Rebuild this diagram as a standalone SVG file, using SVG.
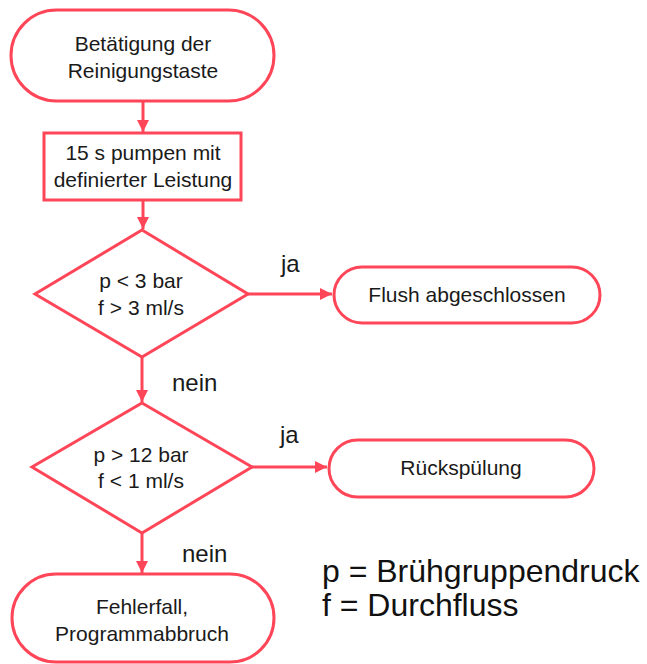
<svg xmlns="http://www.w3.org/2000/svg" width="647" height="664" viewBox="0 0 647 664">
  <defs>
    <style>
      .shape { fill: #ffffff; stroke: #ff4658; stroke-width: 3; }
      .edge { fill: none; stroke: #ff4658; stroke-width: 3; }
      .txt { font-family: "Liberation Sans", Arial, sans-serif; font-size: 21px; fill: #1a1a1a; text-anchor: middle; }
      .lbl { font-family: "Liberation Sans", Arial, sans-serif; font-size: 24px; fill: #1a1a1a; }
      .legend { font-family: "Liberation Sans", Arial, sans-serif; font-size: 32px; fill: #111111; }
    </style>
    <marker id="arrow" viewBox="0 0 10 10" refX="10" refY="5" markerWidth="4" markerHeight="4" orient="auto" markerUnits="strokeWidth">
      <path d="M0,0 L10,5 L0,10 z" fill="#ff4658"/>
    </marker>
  </defs>
  <rect width="647" height="664" fill="#ffffff"/>

  <g id="connectors">
    <line class="edge" x1="143" y1="102" x2="143" y2="132" marker-end="url(#arrow)"/>
    <line class="edge" x1="143" y1="201" x2="143" y2="229" marker-end="url(#arrow)"/>
    <line class="edge" x1="248" y1="294" x2="332" y2="294" marker-end="url(#arrow)"/>
    <line class="edge" x1="142" y1="357" x2="142" y2="402" marker-end="url(#arrow)"/>
    <line class="edge" x1="252" y1="467" x2="327" y2="467" marker-end="url(#arrow)"/>
    <line class="edge" x1="142" y1="533" x2="142" y2="573" marker-end="url(#arrow)"/>
    <text class="lbl" x="281" y="272">ja</text>
    <text class="lbl" x="172" y="391">nein</text>
    <text class="lbl" x="280" y="443">ja</text>
    <text class="lbl" x="182" y="562">nein</text>
  </g>

  <g id="start">
    <rect class="shape" x="11" y="10" width="263" height="91" rx="45.5"/>
    <text class="txt" x="143" y="51">Betätigung der</text>
    <text class="txt" x="143" y="78">Reinigungstaste</text>
  </g>

  <g id="pump">
    <rect class="shape" x="44" y="133" width="197" height="67"/>
    <text class="txt" x="143" y="160">15 s pumpen mit</text>
    <text class="txt" x="143" y="187">definierter Leistung</text>
  </g>

  <g id="check-low">
    <polygon class="shape" points="142,230 248,294 142,357 35,294"/>
    <text class="txt" x="141" y="288">p &lt; 3 bar</text>
    <text class="txt" x="141" y="315">f &gt; 3 ml/s</text>
  </g>

  <g id="flush-done">
    <rect class="shape" x="334" y="267" width="266" height="56" rx="28"/>
    <text class="txt" x="467" y="302">Flush abgeschlossen</text>
  </g>

  <g id="check-high">
    <polygon class="shape" points="142,403 252,467 142,533 32,467"/>
    <text class="txt" x="141" y="462">p &gt; 12 bar</text>
    <text class="txt" x="141" y="488">f &lt; 1 ml/s</text>
  </g>

  <g id="backflush">
    <rect class="shape" x="329" y="440" width="265" height="57" rx="28.5"/>
    <text class="txt" x="461" y="475">Rückspülung</text>
  </g>

  <g id="error">
    <rect class="shape" x="12" y="574" width="262" height="88" rx="44"/>
    <text class="txt" x="142" y="614">Fehlerfall,</text>
    <text class="txt" x="142" y="641">Programmabbruch</text>
  </g>

  <g id="legend">
    <text class="legend" x="322" y="582">p = Brühgruppendruck</text>
    <text class="legend" x="322" y="616">f = Durchfluss</text>
  </g>
</svg>
